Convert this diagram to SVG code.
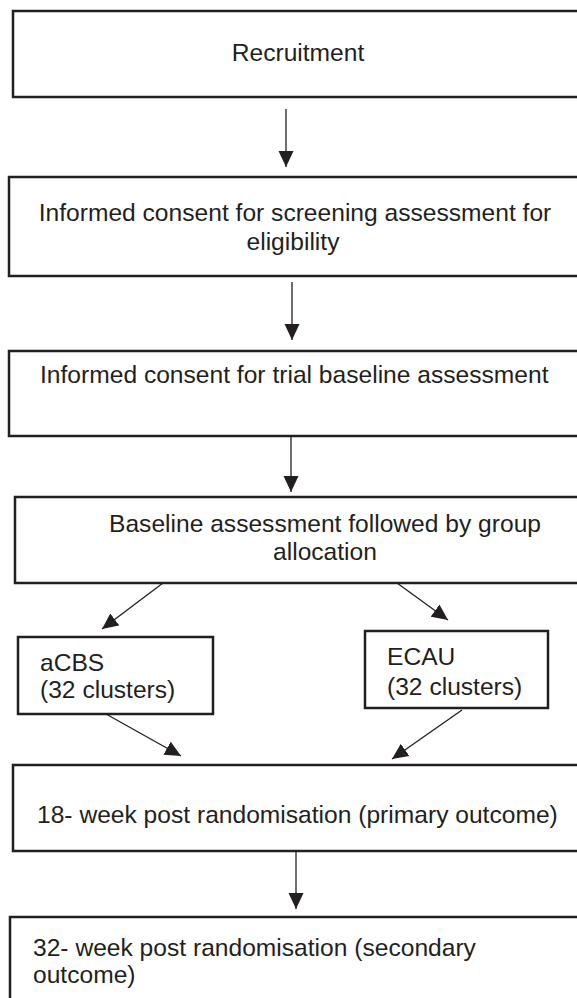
<svg xmlns="http://www.w3.org/2000/svg" width="577" height="998" viewBox="0 0 577 998">
<style>
.box{fill:#fff;stroke:#231f20;stroke-width:2.5}
.t{font-family:"Liberation Sans",Arial,sans-serif;font-size:24.6px;fill:#231f20}
.c{text-anchor:middle}
.e{stroke:#231f20;stroke-width:1.3;fill:none;marker-end:url(#ah)}
</style>
<defs>
<marker id="ah" markerUnits="userSpaceOnUse" markerWidth="16" markerHeight="16" refX="16" refY="8" orient="auto" viewBox="0 0 16 16">
<path d="M0,0.5 L16,8 L0,15.5 z" fill="#231f20"/>
</marker>
</defs>
<rect width="577" height="998" fill="#fff"/>
<g id="recruitment">
<rect class="box" x="13" y="11" width="575" height="86"/>
<text class="t c" x="298" y="61">Recruitment</text>
</g>
<g id="consent-screening">
<rect class="box" x="9" y="177" width="579" height="99"/>
<text class="t c" x="295" y="221">Informed consent for screening assessment for</text>
<text class="t c" x="293" y="250">eligibility</text>
</g>
<g id="consent-trial">
<rect class="box" x="9" y="351" width="579" height="85"/>
<text class="t" x="40" y="383">Informed consent for trial baseline assessment</text>
</g>
<g id="baseline">
<rect class="box" x="15" y="497" width="573" height="86"/>
<text class="t c" x="325" y="532">Baseline assessment followed by group</text>
<text class="t c" x="325" y="560">allocation</text>
</g>
<g id="acbs">
<rect class="box" x="18" y="637" width="195" height="77"/>
<text class="t" x="40" y="671">aCBS</text>
<text class="t" x="40" y="698">(32 clusters)</text>
</g>
<g id="ecau">
<rect class="box" x="365" y="631" width="183" height="77"/>
<text class="t" x="387" y="665">ECAU</text>
<text class="t" x="387" y="695">(32 clusters)</text>
</g>
<g id="week18">
<rect class="box" x="13" y="765" width="575" height="86"/>
<text class="t" x="37" y="823">18- week post randomisation (primary outcome)</text>
</g>
<g id="week32">
<rect class="box" x="10" y="917" width="578" height="95"/>
<text class="t" x="33" y="956">32- week post randomisation (secondary</text>
<text class="t" x="33" y="983">outcome)</text>
</g>
<g id="connectors">
<line class="e" x1="286" y1="109" x2="286" y2="167"/>
<line class="e" x1="292" y1="282" x2="292" y2="340"/>
<line class="e" x1="291" y1="436" x2="291" y2="492"/>
<line class="e" x1="163" y1="583" x2="102" y2="629"/>
<line class="e" x1="397" y1="583" x2="448" y2="620"/>
<line class="e" x1="106" y1="714" x2="181" y2="756"/>
<line class="e" x1="462" y1="710" x2="392" y2="759"/>
<line class="e" x1="296" y1="851" x2="296" y2="909"/>
</g>
</svg>
